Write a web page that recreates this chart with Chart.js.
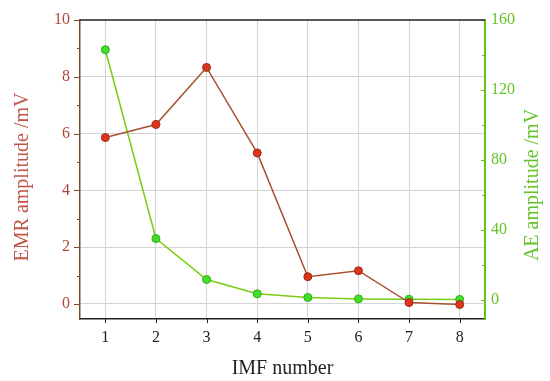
<!DOCTYPE html>
<html>
<head>
<meta charset="utf-8">
<script src="https://cdn.jsdelivr.net/npm/chart.js@4.4.1/dist/chart.umd.min.js"></script>
<style>
  html, body { margin: 0; padding: 0; background: #fff; }
  #wrap { width: 550px; height: 381px; }
</style>
</head>
<body>
<div id="wrap"><canvas id="chart"></canvas></div>
<script>
const imfNumbers = [1, 2, 3, 4, 5, 6, 7, 8];
const emrAmplitude = [5.86, 6.32, 8.33, 5.32, 0.96, 1.17, 0.05, -0.02];
const aeAmplitude = [143.0, 35.0, 11.6, 3.4, 1.3, 0.5, 0.3, 0.2];
const emrTicks = [0, 1, 2, 3, 4, 5, 6, 7, 8, 9, 10];
const aeTicks = [0, 20, 40, 60, 80, 100, 120, 140, 160];

const serif = "'Liberation Serif', 'Times New Roman', serif";
const emrColor = "#b0463a";
const aeColor = "#66c22a";

// minor/major ticks and the rotated y titles are drawn by hand
const axisDecor = {
  id: "axisDecor",
  afterDraw(chart) {
    const { ctx, chartArea } = chart;
    const x = chart.scales.x, yl = chart.scales.y, yr = chart.scales.y1;
    ctx.save();
    ctx.lineWidth = 1;

    ctx.strokeStyle = "#7a4a2a";
    emrTicks.forEach((v) => {
      const py = Math.round(yl.getPixelForValue(v)) + 0.5;
      const len = v % 2 === 0 ? 6 : 3;
      ctx.beginPath();
      ctx.moveTo(chartArea.left - len, py);
      ctx.lineTo(chartArea.left, py);
      ctx.stroke();
    });

    ctx.strokeStyle = "#5cb82a";
    aeTicks.forEach((v) => {
      const py = Math.round(yr.getPixelForValue(v)) + 0.5;
      const len = v % 40 === 0 ? 4 : 3;
      ctx.beginPath();
      ctx.moveTo(chartArea.right - len, py);
      ctx.lineTo(chartArea.right, py);
      ctx.stroke();
    });

    ctx.strokeStyle = "#222";
    imfNumbers.forEach((v) => {
      const px = Math.round(x.getPixelForValue(v)) + 0.5;
      ctx.beginPath();
      ctx.moveTo(px, chartArea.bottom);
      ctx.lineTo(px, chartArea.bottom + 4);
      ctx.stroke();
    });

    // top frame line
    ctx.strokeStyle = "#222";
    ctx.lineWidth = 1.5;
    ctx.beginPath();
    ctx.moveTo(chartArea.left, chartArea.top);
    ctx.lineTo(chartArea.right, chartArea.top);
    ctx.stroke();

    ctx.font = "20px " + serif;
    ctx.textAlign = "center";
    ctx.textBaseline = "middle";
    ctx.fillStyle = "#c05548";
    ctx.save();
    ctx.translate(23, 177);
    ctx.rotate(-Math.PI / 2);
    ctx.fillText("EMR amplitude /mV", 0, 0);
    ctx.restore();

    ctx.fillStyle = aeColor;
    ctx.save();
    ctx.translate(533, 185);
    ctx.rotate(-Math.PI / 2);
    ctx.fillText("AE amplitude /mV", 0, 0);
    ctx.restore();
    ctx.restore();
  },
};

new Chart(document.getElementById("chart"), {
  type: "line",
  data: {
    datasets: [
      {
        label: "EMR",
        data: imfNumbers.map((n, i) => ({ x: n, y: emrAmplitude[i] })),
        yAxisID: "y",
        borderColor: "#a8502e",
        borderWidth: 1.5,
        backgroundColor: "#e2321e",
        pointBorderColor: "#8a3416",
        pointBorderWidth: 1,
        pointRadius: 4,
        tension: 0,
      },
      {
        label: "AE",
        data: imfNumbers.map((n, i) => ({ x: n, y: aeAmplitude[i] })),
        yAxisID: "y1",
        borderColor: "#7acc10",
        borderWidth: 1.5,
        backgroundColor: "#3ee02a",
        pointBorderColor: "#3aa818",
        pointBorderWidth: 1,
        pointRadius: 4,
        tension: 0,
      },
    ],
  },
  options: {
    responsive: true,
    maintainAspectRatio: false,
    animation: false,
    layout: { padding: { top: 20, left: 0, right: 0, bottom: 0 } },
    plugins: {
      legend: { display: false },
      tooltip: { enabled: false },
    },
    scales: {
      x: {
        type: "linear",
        min: 0.5,
        max: 8.5,
        afterBuildTicks: (s) => { s.ticks = imfNumbers.map((v) => ({ value: v })); },
        afterFit: (s) => { s.height = 62; },
        ticks: { padding: 9, color: "#222", font: { family: serif, size: 16 } },
        grid: { color: "#d4d4d4", drawTicks: false },
        border: { color: "#222", width: 1.5 },
        title: {
          display: true,
          text: "IMF number",
          color: "#222",
          font: { family: serif, size: 20 },
          padding: { top: 2, bottom: 0 },
        },
      },
      y: {
        position: "left",
        min: -0.53,
        max: 10,
        afterBuildTicks: (s) => { s.ticks = emrTicks.map((v) => ({ value: v })); },
        afterFit: (s) => { s.width = 80; },
        ticks: {
          padding: 10,
          color: emrColor,
          font: { family: serif, size: 16 },
          callback: (v) => (v % 2 === 0 ? v : ""),
        },
        grid: {
          drawTicks: false,
          color: (c) => (c.tick && c.tick.value % 2 === 0 && c.tick.value < 10 ? "#d4d4d4" : "rgba(0,0,0,0)"),
        },
        border: { color: "#7a4a2a", width: 1.5 },
      },
      y1: {
        position: "right",
        min: -11,
        max: 160,
        afterBuildTicks: (s) => { s.ticks = aeTicks.map((v) => ({ value: v })); },
        afterFit: (s) => { s.width = 65; },
        ticks: {
          padding: 6,
          color: aeColor,
          font: { family: serif, size: 16 },
          callback: (v) => (v % 40 === 0 ? v : ""),
        },
        grid: { drawOnChartArea: false, drawTicks: false },
        border: { color: "#66c21a", width: 2 },
      },
    },
  },
  plugins: [axisDecor],
});
</script>
</body>
</html>
